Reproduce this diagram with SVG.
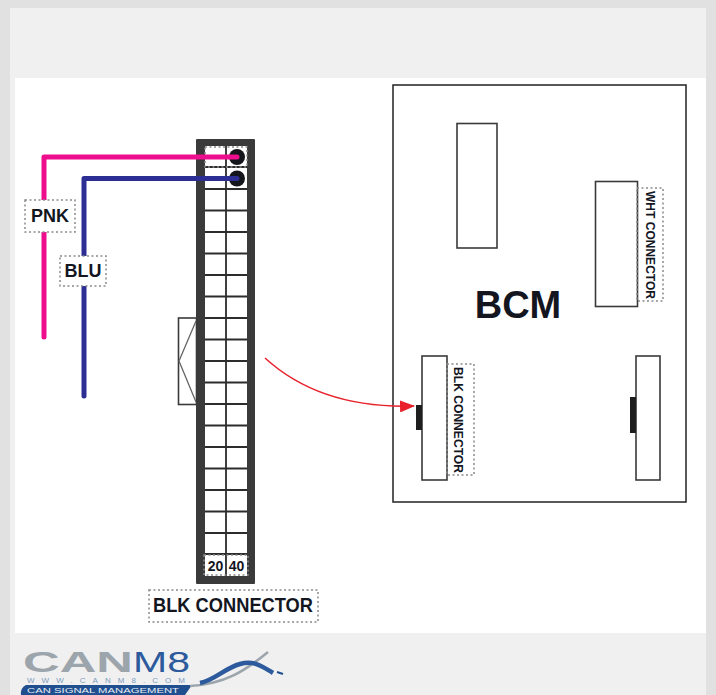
<svg xmlns="http://www.w3.org/2000/svg" width="716" height="695" viewBox="0 0 716 695">
<defs>
<style>
text{font-family:"Liberation Sans",Arial,sans-serif;font-weight:bold;fill:#14161f}
.box{fill:#fff;stroke:#3a3a3a;stroke-width:1.6}
.dot{fill:none;stroke:#8a8a8a;stroke-width:1.5;stroke-dasharray:2 2.5}
.grid{stroke:#2c2c2c;stroke-width:1.8;fill:none}
.wire{fill:none;stroke-width:5;stroke-linejoin:round;stroke-linecap:round}
</style>
<marker id="arr" markerUnits="userSpaceOnUse" markerWidth="15" markerHeight="12" refX="14" refY="6" orient="auto"><path d="M0 0L15 6L0 12Z" fill="#e8212b"/></marker>
</defs>
<g id="background">
<rect width="716" height="695" fill="#e1e1e1"/>
<rect x="10" y="8" width="696" height="687" fill="#f0f0f0"/>
<rect x="15" y="78" width="691" height="555" fill="#fff"/>
</g>
<g id="black-connector">
<rect x="178.500" y="318" width="18" height="86.500" class="box"/>
<path d="M196 321L179 361L196 402" fill="none" stroke="#666" stroke-width="1.300"/>
<rect x="196" y="139" width="59" height="445" fill="#3a3a3a" rx="1"/>
<rect x="205" y="146" width="42" height="430" fill="#fff"/>
<path class="grid" d="M226 146V576M205 167H247M205 189H247M205 210.500H247M205 232H247M205 253.500H247M205 275H247M205 296.500H247M205 318H247M205 339.500H247M205 361H247M205 382.500H247M205 404H247M205 425.500H247M205 447H247M205 468.500H247M205 490H247M205 511.500H247M205 533H247M205 554H247"/>
<rect x="205" y="147" width="42" height="20" class="dot"/>
<rect x="204" y="555" width="44" height="20" class="dot"/>
<circle cx="237" cy="157" r="8" fill="#15151c"/>
<circle cx="237" cy="178.500" r="8" fill="#15151c"/>
<text x="215.500" y="571" font-size="14" text-anchor="middle">20</text>
<text x="236.500" y="571" font-size="14" text-anchor="middle">40</text>
</g>
<g id="bcm">
<rect x="393" y="85" width="293" height="417" fill="#fff" stroke="#222" stroke-width="1.500"/>
<text x="518" y="318" font-size="38" text-anchor="middle">BCM</text>
</g>
<g id="connector-top">
<rect x="457" y="123.500" width="40" height="124.500" class="box"/>
</g>
<g id="wht-connector">
<rect x="595.500" y="181.500" width="42" height="125" class="box"/>
<rect x="637" y="188" width="26" height="113" class="dot"/>
<text transform="translate(646,191) rotate(90)" font-size="12" textLength="108" lengthAdjust="spacingAndGlyphs">WHT CONNECTOR</text>
</g>
<g id="blk-connector">
<rect x="422" y="356" width="25" height="124" class="box"/>
<rect x="416" y="405" width="6" height="25" fill="#1e1e1e"/>
<rect x="447" y="364" width="27" height="111" class="dot"/>
<text transform="translate(454,367) rotate(90)" font-size="12.500" textLength="106" lengthAdjust="spacingAndGlyphs">BLK CONNECTOR</text>
</g>
<g id="connector-right">
<rect x="636" y="356" width="24" height="124" class="box"/>
<rect x="630" y="397" width="6" height="36" fill="#1e1e1e"/>
</g>
<g id="connectors">
<path class="wire" stroke="#ee0d8c" d="M44 337V157H237"/>
<path class="wire" stroke="#2c2e93" d="M84 396V178.500H237"/>
<path d="M265 358C300 390 350 408 414 406" fill="none" stroke="#e8212b" stroke-width="1.500" marker-end="url(#arr)"/>
</g>
<g id="pnk-label">
<rect x="25" y="200" width="50" height="32" class="dot" style="fill:#fff"/>
<text x="50" y="222" font-size="18" text-anchor="middle">PNK</text>
</g>
<g id="blu-label">
<rect x="60" y="256" width="46" height="30" class="dot" style="fill:#fff"/>
<text x="83" y="277" font-size="18" text-anchor="middle">BLU</text>
</g>
<g id="blk-connector-label">
<rect x="149" y="590" width="169" height="32" class="dot"/>
<text x="233" y="612" font-size="20" text-anchor="middle" textLength="160" lengthAdjust="spacingAndGlyphs">BLK CONNECTOR</text>
</g>
<g id="logo">
<text x="23" y="672" font-size="29" textLength="110" lengthAdjust="spacingAndGlyphs" style="fill:#9ca4ac">CAN</text>
<text x="133" y="672" font-size="30" textLength="57" lengthAdjust="spacingAndGlyphs" style="fill:#2d5a9c;font-weight:normal">M8</text>
<text x="27" y="683" font-size="8" textLength="158" style="fill:#7e9cc0;font-weight:normal">WWW.CANM8.COM</text>
<path d="M26 685H192L185 695H21Q20 688 26 685Z" fill="#1f4f8e"/>
<text x="27" y="693" font-size="7.500" textLength="152" lengthAdjust="spacingAndGlyphs" style="fill:#e8edf3;font-weight:normal">CAN SIGNAL MANAGEMENT</text>
<path d="M190 686C225 684 245 671 268 652" fill="none" stroke="#9ca4ac" stroke-width="2.500"/>
<path d="M200 683C215 680 225 668 240 664C255 660 263 667 273 673" fill="none" stroke="#2d5a9c" stroke-width="4.500"/>
<path d="M277 672L283 674" stroke="#1f4f8e" stroke-width="2"/>
</g>
</svg>
